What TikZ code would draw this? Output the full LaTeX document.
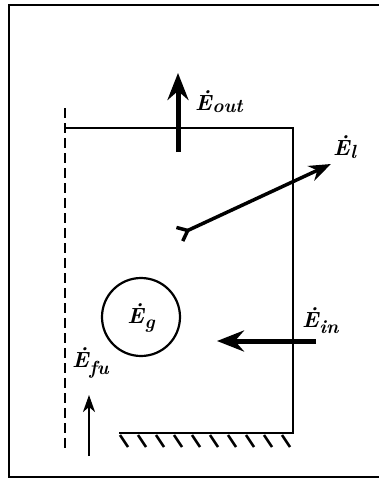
\documentclass[tikz,border=0pt]{standalone}
\usepackage{fontspec}
\setmainfont{Latin Modern Roman}
\usetikzlibrary{arrows.meta}
\newcommand{\mylab}[2]{{\fontsize{22}{24}\selectfont\bfseries\itshape Ė\kern0.5pt\raisebox{-#2}{\fontsize{19}{21}\selectfont #1}}}
\tikzset{
  frame/.style={line width=2pt},
  wall/.style={line width=2.2pt},
  flux/.style={line width=5pt,-{Stealth[length=27pt,width=21pt,inset=9pt]}},
  thinflux/.style={line width=2.2pt,-{Stealth[length=17pt,width=12pt,inset=5pt]}},
  lbl/.style={inner sep=0pt,anchor=base west},
  hatch/.style={line width=2.6pt},
}
\begin{document}
\begin{tikzpicture}[x=1pt,y=-1pt]
\useasboundingbox (0,0) rectangle (379,480);
\clip (0,0) rectangle (379,480);
% outer frame (open on the right, outside the picture)
\coordinate (f1) at (390,5);
\coordinate (f2) at (9,5);
\coordinate (f3) at (9,477);
\coordinate (f4) at (390,477);
\draw[frame] (f1) -- (f2) -- (f3) -- (f4);
% control volume
\coordinate (tl) at (65,128);
\coordinate (tr) at (293,128);
\coordinate (br) at (293,433);
\coordinate (bl) at (119,433);
\draw[wall] (tl) -- (tr) -- (br) -- (bl);
% dashed boundary
\coordinate (d1) at (65,108);
\coordinate (d2) at (65,449);
\draw[line width=2.2pt,dash pattern=on 10pt off 5pt] (d1) -- (d2);
% hatching
\foreach \i in {0,...,9}{
  \draw[hatch] ({120+18*\i},435) -- ({128+18*\i},447);
}
% E_out
\coordinate (o1) at (178,152);
\coordinate (o2) at (178,73);
\draw[flux] (o1) -- (o2);
\node[lbl] (Eout) at (195,110) {\mylab{out}{2pt}};
% E_l
\coordinate (l1) at (178,235);
\coordinate (l2) at (331,164);
\draw[line width=3.5pt,{Straight Barb[reversed,length=9pt,width=15pt]}-{Stealth[length=22pt,width=16pt,inset=7pt]}] (l1) -- (l2);
\node[lbl] (El) at (333,155) {\mylab{l}{3pt}};
% E_g
\node[circle,draw,line width=2.2pt,minimum size=78pt,inner sep=0pt] (g) at (141,317) {};
\node[lbl,anchor=center] (Eg) at (141,318) {\mylab{g}{5pt}};
% E_in
\coordinate (i1) at (316,341);
\coordinate (i2) at (217,341);
\draw[flux] (i1) -- (i2);
\node[lbl] (Ein) at (302,327) {\mylab{in}{6pt}};
% E_fu
\coordinate (u1) at (89,456);
\coordinate (u2) at (89,395);
\draw[thinflux] (u1) -- (u2);
\node[lbl] (Efu) at (72,367) {\mylab{fu}{7pt}};
\end{tikzpicture}
\end{document}
